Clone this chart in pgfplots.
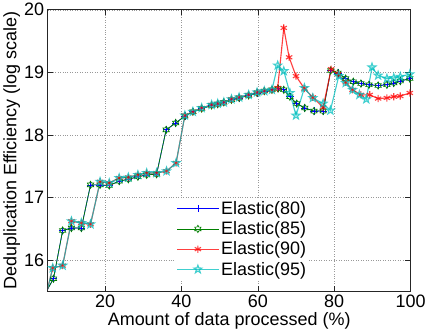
\documentclass[border=0pt]{standalone}
\usepackage{fontspec}
\setmainfont{Liberation Sans}
\usepackage{pgfplots}
\pgfplotsset{compat=1.18}
\usetikzlibrary{plotmarks}

\pgfdeclareplotmark{pentagram}{%
  \pgfpathmoveto{\pgfpointpolar{90}{\pgfplotmarksize}}%
  \pgfpathlineto{\pgfpointpolar{126}{0.40\pgfplotmarksize}}%
  \pgfpathlineto{\pgfpointpolar{162}{\pgfplotmarksize}}%
  \pgfpathlineto{\pgfpointpolar{198}{0.40\pgfplotmarksize}}%
  \pgfpathlineto{\pgfpointpolar{234}{\pgfplotmarksize}}%
  \pgfpathlineto{\pgfpointpolar{270}{0.40\pgfplotmarksize}}%
  \pgfpathlineto{\pgfpointpolar{306}{\pgfplotmarksize}}%
  \pgfpathlineto{\pgfpointpolar{342}{0.40\pgfplotmarksize}}%
  \pgfpathlineto{\pgfpointpolar{18}{\pgfplotmarksize}}%
  \pgfpathlineto{\pgfpointpolar{54}{0.40\pgfplotmarksize}}%
  \pgfpathclose\pgfusepathqstroke}
\pgfdeclareplotmark{hexagram}{%
  \pgfpathmoveto{\pgfpointpolar{90}{\pgfplotmarksize}}%
  \pgfpathlineto{\pgfpointpolar{120}{0.58\pgfplotmarksize}}%
  \pgfpathlineto{\pgfpointpolar{150}{\pgfplotmarksize}}%
  \pgfpathlineto{\pgfpointpolar{180}{0.58\pgfplotmarksize}}%
  \pgfpathlineto{\pgfpointpolar{210}{\pgfplotmarksize}}%
  \pgfpathlineto{\pgfpointpolar{240}{0.58\pgfplotmarksize}}%
  \pgfpathlineto{\pgfpointpolar{270}{\pgfplotmarksize}}%
  \pgfpathlineto{\pgfpointpolar{300}{0.58\pgfplotmarksize}}%
  \pgfpathlineto{\pgfpointpolar{330}{\pgfplotmarksize}}%
  \pgfpathlineto{\pgfpointpolar{0}{0.58\pgfplotmarksize}}%
  \pgfpathlineto{\pgfpointpolar{30}{\pgfplotmarksize}}%
  \pgfpathlineto{\pgfpointpolar{60}{0.58\pgfplotmarksize}}%
  \pgfpathclose\pgfusepathqstroke}

\definecolor{mblue}{rgb}{0,0,1}
\definecolor{mgreen}{rgb}{0,0.5,0}
\definecolor{mred}{rgb}{1,0,0}
\definecolor{mcyan}{rgb}{0,0.75,0.75}

\begin{document}
\begin{tikzpicture}
\begin{axis}[
  scale only axis,
  width=352bp, height=273bp,
  xmin=5, xmax=100, ymin=15.5, ymax=20,
  xtick={20,40,60,80,100},
  ytick={16,17,18,19,20},
  tick align=inside,
  major tick length=5bp,
  grid=major,
  major grid style={dotted, gray!80, line width=0.5pt},
  axis line style={line width=0.8pt, black!85},
  tick style={black!85, line width=0.6pt},
  /pgf/number format/assume math mode=true,
  ticklabel style={font=\fontsize{17.5}{20}\selectfont},
  label style={font=\fontsize{17.5}{20}\selectfont},
  xlabel={Amount of data processed (\%)},
  ylabel={Deduplication Efficiency (log scale)},
  xlabel style={yshift=2bp},
  ylabel style={yshift=-3bp},
  legend style={at={(0.352,0.04)}, anchor=south west, draw=none, fill=white,
    font=\fontsize{17.5}{20}\selectfont, row sep=1.5bp, inner sep=1bp},
  legend cell align=left,
  legend image code/.code={\draw[mark repeat=2,mark phase=2,#1] plot coordinates {(0bp,0bp) (20bp,0bp) (40bp,0bp)};},
]
\addplot[mblue, line width=0.7pt, mark=+, mark size=3.5bp, mark options={solid}] coordinates {
(4.2,15.45) (6.5,15.70) (8.9,16.47) (11.2,16.51) (13.8,16.51) (16.2,17.20) (18.7,17.20)
(21.1,17.19) (23.7,17.26) (26.1,17.29) (28.6,17.33) (30.9,17.36) (33.5,17.37) (36.0,18.08)
(38.5,18.19) (40.9,18.30) (43.0,18.37) (45.3,18.42) (47.9,18.47) (49.5,18.49) (51.1,18.52)
(53.1,18.56) (55.1,18.59) (57.6,18.63) (59.8,18.67) (61.7,18.70) (63.7,18.72) (65.3,18.74)
(66.8,18.72) (68.4,18.61) (70.2,18.50) (72.3,18.43) (74.7,18.38) (77.1,18.38) (79.1,19.03)
(81.0,18.99) (83.0,18.90) (85.0,18.85) (87.0,18.82) (89.1,18.80) (91.5,18.79) (93.8,18.80)
(95.6,18.83) (97.3,18.86) (99.8,18.90)};
\addlegendentry{Elastic(80)}
\addplot[mgreen, line width=0.7pt, mark=hexagram, mark size=3.5bp, mark options={solid}] coordinates {
(4.2,15.45) (6.5,15.70) (8.9,16.47) (11.2,16.51) (13.8,16.51) (16.2,17.20) (18.7,17.20)
(21.1,17.19) (23.7,17.26) (26.1,17.29) (28.6,17.33) (30.9,17.36) (33.5,17.37) (36.0,18.08)
(38.5,18.19) (40.9,18.30) (43.0,18.37) (45.3,18.42) (47.9,18.47) (49.5,18.49) (51.1,18.52)
(53.1,18.56) (55.1,18.59) (57.6,18.63) (59.8,18.67) (61.7,18.70) (63.7,18.72) (65.3,18.74)
(66.8,18.72) (68.4,18.61) (70.2,18.50) (72.3,18.43) (74.7,18.38) (77.1,18.38) (79.1,19.03)
(81.0,18.99) (83.0,18.90) (85.0,18.85) (87.0,18.82) (89.1,18.80) (91.5,18.79) (93.8,18.80)
(95.6,18.83) (97.3,18.86) (99.8,18.90)};
\addlegendentry{Elastic(85)}
\addplot[mred, line width=1.1pt, opacity=0.75, mark=asterisk, mark size=3.5bp, mark options={solid}] coordinates {
(4.2,15.35) (6.3,15.87) (8.9,15.91) (11.2,16.62) (13.8,16.59) (16.2,16.57) (18.7,17.25)
(21.1,17.23) (23.7,17.31) (26.1,17.32) (28.6,17.36) (30.9,17.39) (33.5,17.39) (36.1,17.42)
(38.6,17.55) (40.9,18.31) (43.0,18.37) (45.3,18.43) (47.9,18.48) (49.5,18.50) (51.1,18.52)
(53.1,18.57) (55.1,18.60) (57.6,18.64) (59.8,18.68) (61.7,18.70) (63.7,18.72) (65.2,18.75)
(66.8,19.71) (68.2,19.24) (70.0,18.94) (72.2,18.74) (74.4,18.60) (77.1,18.44) (79.2,19.05)
(81.0,18.97) (83.0,18.84) (84.8,18.72) (87.0,18.64) (89.3,18.64) (91.5,18.58) (93.8,18.59)
(95.6,18.61) (97.3,18.62) (99.8,18.67)};
\addlegendentry{Elastic(90)}
\addplot[mcyan, line width=1.1pt, opacity=0.75, mark=pentagram, mark size=4bp, mark options={solid}] coordinates {
(4.2,15.35) (6.3,15.87) (8.9,15.91) (11.2,16.62) (13.8,16.59) (16.2,16.57) (18.7,17.25)
(21.1,17.23) (23.7,17.31) (26.1,17.32) (28.6,17.36) (30.9,17.39) (33.5,17.39) (36.1,17.42)
(38.6,17.55) (40.9,18.31) (43.0,18.37) (45.3,18.43) (47.9,18.48) (49.5,18.50) (51.1,18.52)
(53.1,18.57) (55.1,18.60) (57.6,18.64) (59.8,18.68) (61.7,18.70) (63.7,18.72) (65.2,19.11)
(66.8,19.02) (68.4,18.67) (70.0,18.31) (72.2,18.75) (74.4,18.59) (77.1,18.50) (79.0,18.39)
(81.2,18.94) (83.0,18.83) (84.8,18.72) (86.6,18.64) (88.4,18.57) (89.9,19.08) (91.5,18.95)
(93.8,18.90) (95.6,18.91) (97.3,18.93) (99.8,18.97)};
\addlegendentry{Elastic(95)}
\end{axis}
\end{tikzpicture}
\end{document}
